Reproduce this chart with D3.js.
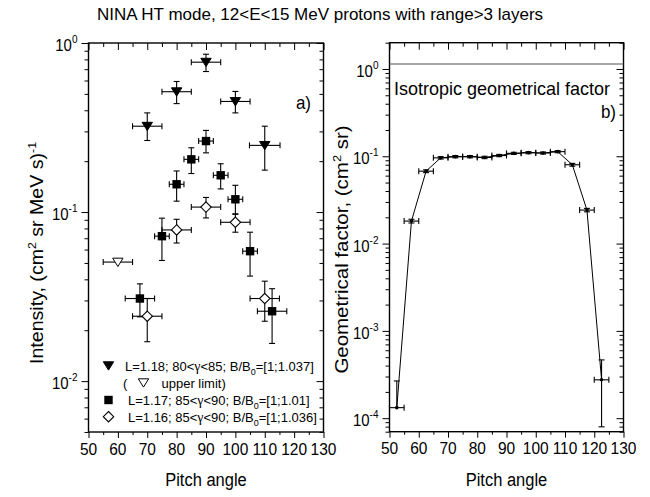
<!DOCTYPE html>
<html><head><meta charset="utf-8">
<script src="https://cdn.jsdelivr.net/npm/d3@7"></script>
<style>
html,body{margin:0;padding:0;background:#fff;}
text{font-family:"Liberation Sans",Arial,sans-serif;fill:#000;}
</style></head>
<body>
<svg id="chart" width="650" height="497"></svg>
<script>
// ---------- Data ----------
// Panel a) L=1.18; 80<γ<85 (filled down triangles)
const triX   = [70, 80, 90, 100, 110];
const triY   = [0.322, 0.515, 0.77, 0.451, 0.248];
const triYlo = [0.265, 0.438, 0.678, 0.386, 0.177];
const triYhi = [0.386, 0.592, 0.858, 0.517, 0.322];
const triXerr = [5, 5, 5, 5, 5.2];
// upper limit (open down triangle)
const ulX = [60];
const ulY = [0.0506];
const ulXerr = [5];
// L=1.17; 85<γ<90 (filled squares)
const sqX   = [67.5, 75, 80, 85, 90, 95, 100, 105, 112.5];
const sqY   = [0.0308, 0.072, 0.146, 0.205, 0.263, 0.165, 0.119, 0.0587, 0.0259];
const sqYlo = [0.0240, 0.0517, 0.116, 0.169, 0.224, 0.137, 0.097, 0.0418, 0.0167];
const sqYhi = [0.0376, 0.092, 0.175, 0.240, 0.304, 0.193, 0.144, 0.076, 0.0352];
const sqXerr = [5, 2.5, 2.5, 2.5, 2.5, 2.5, 2.5, 2.5, 5];
// L=1.16; 85<γ<90 (open diamonds)
const diX   = [70, 80, 90, 100, 110];
const diY   = [0.0242, 0.0784, 0.107, 0.087, 0.0308];
const diYlo = [0.0171, 0.0656, 0.0923, 0.076, 0.0226];
const diYhi = [0.0308, 0.0906, 0.122, 0.0976, 0.039];
const diXerr = [5, 5, 5, 5, 5];

// Panel b) geometrical factor
const gfX   = [52.5, 57.5, 62.5, 67.5, 72.5, 77.5, 82.5, 87.5, 92.5, 97.5, 102.5, 107.5, 112.5, 117.5, 122.5];
const gfY   = [1.32e-4, 0.0181, 0.0675, 0.096, 0.099, 0.099, 0.097, 0.102, 0.108, 0.110, 0.109, 0.113, 0.080, 0.0242, 2.75e-4];
const gfYlo = [1.32e-4, 0.0172, 0.0650, 0.093, 0.096, 0.096, 0.094, 0.099, 0.105, 0.107, 0.106, 0.110, 0.077, 0.0231, 7.96e-5];
const gfYhi = [2.67e-4, 0.0190, 0.0700, 0.099, 0.102, 0.102, 0.100, 0.105, 0.111, 0.113, 0.112, 0.116, 0.083, 0.0253, 4.65e-4];
const gfXerr = [2.5, 2.5, 2.5, 2.5, 2.5, 2.5, 2.5, 2.5, 2.5, 2.5, 2.5, 2.5, 2.5, 2.5, 2.5];
const isoGF = [1.14];

const xTicks = [50, 60, 70, 80, 90, 100, 110, 120, 130];
const xMinor = [55, 65, 75, 85, 95, 105, 115, 125];
const yDecadesA = [0.01, 0.1, 1];
const yDecadesB = [1e-4, 1e-3, 1e-2, 1e-1, 1];

const titleText = "NINA HT mode, 12<E<15 MeV protons with range>3 layers";

// ---------- Layout ----------
const svg = d3.select("#chart");
const A = {x0: 88.5, x1: 323.5, y0: 432, y1: 43};
const B = {x0: 389.5, x1: 623.5, y0: 431.7, y1: 42.7};

const xA = d3.scaleLinear().domain([50,130]).range([A.x0, A.x1]);
const yA = d3.scaleLog().domain([0.005, 1]).range([A.y0, A.y1]);
const xB = d3.scaleLinear().domain([50,130]).range([B.x0, B.x1]);
const yB = d3.scaleLog().domain([7e-5, 2]).range([B.y0, B.y1]);

// horizontal text, vertically stretched by k
function htext(x, y, size, k, anchor){
  return svg.append("text").attr("transform",`translate(${x},${y}) scale(1,${k})`)
    .attr("text-anchor",anchor||"start").attr("font-size",size);
}

function logMinors(scale){
  const [d0,d1] = scale.domain();
  const out = [];
  for (let e = Math.floor(Math.log10(d0)); e <= Math.ceil(Math.log10(d1)); e++){
    for (let m = 2; m <= 9; m++){
      const v = m*Math.pow(10,e);
      if (v >= d0 && v <= d1) out.push(v);
    }
  }
  return out;
}

function drawAxes(P, x, y, decades){
  const g = svg.append("g");
  const clean = s => s.call(gg => gg.select(".domain").remove());
  // bottom (outward)
  g.append("g").attr("transform",`translate(0,${P.y0})`)
    .call(d3.axisBottom(x).tickValues(xTicks).tickSize(6).tickFormat("")).call(clean);
  g.append("g").attr("transform",`translate(0,${P.y0})`)
    .call(d3.axisBottom(x).tickValues(xMinor).tickSize(3).tickFormat("")).call(clean);
  // top (inward)
  g.append("g").attr("transform",`translate(0,${P.y1})`)
    .call(d3.axisBottom(x).tickValues(xTicks).tickSize(7).tickFormat("")).call(clean);
  g.append("g").attr("transform",`translate(0,${P.y1})`)
    .call(d3.axisBottom(x).tickValues(xMinor).tickSize(4).tickFormat("")).call(clean);
  // left (outward)
  g.append("g").attr("transform",`translate(${P.x0},0)`)
    .call(d3.axisLeft(y).tickValues(decades).tickSize(7).tickFormat("")).call(clean);
  g.append("g").attr("transform",`translate(${P.x0},0)`)
    .call(d3.axisLeft(y).tickValues(logMinors(y)).tickSize(4).tickFormat("")).call(clean);
  // right (inward)
  g.append("g").attr("transform",`translate(${P.x1},0)`)
    .call(d3.axisLeft(y).tickValues(decades).tickSize(7).tickFormat("")).call(clean);
  g.append("g").attr("transform",`translate(${P.x1},0)`)
    .call(d3.axisLeft(y).tickValues(logMinors(y)).tickSize(4).tickFormat("")).call(clean);
  g.selectAll(".tick line").attr("stroke","#000").attr("stroke-width",1);
  // frame
  g.append("rect").attr("x",P.x0).attr("y",P.y1).attr("width",P.x1-P.x0).attr("height",P.y0-P.y1)
    .attr("fill","none").attr("stroke","#000").attr("stroke-width",1.4);
  // x tick labels
  xTicks.forEach(v=>{
    htext(x(v), P.y0+22.5, 15.5, 1.1, "middle").text(String(v));
  });
  // y tick labels 10^n
  decades.forEach(d=>{
    const t = htext(P.x0-11, y(d)+8, 15, 1.12, "end");
    t.append("tspan").text("10");
    t.append("tspan").attr("dy",-7).attr("font-size",10).text(String(Math.round(Math.log10(d))));
  });
}

drawAxes(A, xA, yA, yDecadesA);
drawAxes(B, xB, yB, yDecadesB);

// ---------- error bars ----------
function errBars(g, x, y, xs, ys, xerr, ylo, yhi, cap){
  xs.forEach((xv,i)=>{
    const cx = x(xv), cy = y(ys[i]);
    const xl = x(xv - xerr[i]), xr = x(xv + xerr[i]);
    g.append("line").attr("x1",xl).attr("x2",xr).attr("y1",cy).attr("y2",cy);
    g.append("line").attr("x1",xl).attr("x2",xl).attr("y1",cy-cap).attr("y2",cy+cap);
    g.append("line").attr("x1",xr).attr("x2",xr).attr("y1",cy-cap).attr("y2",cy+cap);
    if (ylo && yhi){
      const yt = y(yhi[i]), yb = y(ylo[i]);
      g.append("line").attr("x1",cx).attr("x2",cx).attr("y1",yt).attr("y2",yb);
      g.append("line").attr("x1",cx-cap).attr("x2",cx+cap).attr("y1",yt).attr("y2",yt);
      if (Math.abs(yb-cy) > 0.5)
        g.append("line").attr("x1",cx-cap).attr("x2",cx+cap).attr("y1",yb).attr("y2",yb);
    }
  });
}

const gA = svg.append("g").attr("stroke","#000").attr("stroke-width",1.1);
errBars(gA, xA, yA, triX, triY, triXerr, triYlo, triYhi, 3);
errBars(gA, xA, yA, ulX, ulY, ulXerr, null, null, 3);
errBars(gA, xA, yA, sqX, sqY, sqXerr, sqYlo, sqYhi, 3);
errBars(gA, xA, yA, diX, diY, diXerr, diYlo, diYhi, 3);

const triPath = (cx,cy,s) => `M${cx-s},${cy-s*0.75}L${cx+s},${cy-s*0.75}L${cx},${cy+s*0.85}Z`;
function markTri(g, cx, cy, fill){
  g.append("path").attr("d",triPath(cx,cy,5.2)).attr("fill",fill).attr("stroke","#000").attr("stroke-width",1);
}
function markSq(g, cx, cy){
  g.append("rect").attr("x",cx-4.2).attr("y",cy-4.2).attr("width",8.4).attr("height",8.4).attr("fill","#000");
}
function markDi(g, cx, cy){
  g.append("path").attr("d",`M${cx},${cy-5.2}L${cx+5.2},${cy}L${cx},${cy+5.2}L${cx-5.2},${cy}Z`)
   .attr("fill","#fff").attr("stroke","#000").attr("stroke-width",1.1);
}
const mA = svg.append("g");
triX.forEach((v,i)=>markTri(mA, xA(v), yA(triY[i]), "#000"));
ulX.forEach((v,i)=>markTri(mA, xA(v), yA(ulY[i]), "#fff"));
sqX.forEach((v,i)=>markSq(mA, xA(v), yA(sqY[i])));
diX.forEach((v,i)=>markDi(mA, xA(v), yA(diY[i])));

// panel b
svg.append("line").attr("x1",B.x0).attr("x2",B.x1).attr("y1",yB(isoGF[0])).attr("y2",yB(isoGF[0]))
  .attr("stroke","#555").attr("stroke-width",1.2);
const line = d3.line().x((d,i)=>xB(gfX[i])).y((d,i)=>yB(gfY[i]));
svg.append("path").attr("d",line(gfY)).attr("fill","none").attr("stroke","#000").attr("stroke-width",1);
const gB = svg.append("g").attr("stroke","#000").attr("stroke-width",1.1);
errBars(gB, xB, yB, gfX, gfY, gfXerr, gfYlo, gfYhi, 3);
gfX.forEach((v,i)=>svg.append("circle").attr("cx",xB(v)).attr("cy",yB(gfY[i])).attr("r",1.8).attr("fill","#000"));

// ---------- texts ----------
htext(320, 20, 17, 1.0, "middle").text(titleText);
htext((A.x0+A.x1)/2, 486, 16.5, 1.1, "middle").text("Pitch angle");
htext((B.x0+B.x1)/2, 486, 16.5, 1.1, "middle").text("Pitch angle");

const yl = svg.append("text").attr("transform",`translate(43,253) rotate(-90) scale(1.12,1)`).attr("text-anchor","middle").attr("font-size",17.5);
yl.append("tspan").text("Intensity, (cm");
yl.append("tspan").attr("dy",-7).attr("font-size",11).text("2");
yl.append("tspan").attr("dy",7).text(" sr MeV s)");
yl.append("tspan").attr("dy",-7).attr("font-size",11).text("-1");

const yr = svg.append("text").attr("transform",`translate(348,249.5) rotate(-90) scale(1.17,1)`).attr("text-anchor","middle").attr("font-size",17.5);
yr.append("tspan").text("Geometrical factor, (cm");
yr.append("tspan").attr("dy",-7).attr("font-size",11).text("2");
yr.append("tspan").attr("dy",7).text(" sr)");

htext(311, 109, 17, 1.1, "end").text("a)");
htext(616, 118, 17, 1.1, "end").text("b)");
htext(394, 95, 18, 1.03, "start").text("Isotropic geometrical factor");

// legend
const lg = svg.append("g");
const lfs = 13;
markTri(lg, 108.5, 365.7, "#000");
markSq(lg, 108.5, 400);
markDi(lg, 108.5, 416.7);
markTri(lg, 143.5, 382.7, "#fff");
function legText(x, y, L, g1, g2, bb){
  const t = htext(x, y+4.8, lfs, 1.05, "start");
  t.append("tspan").text(`L=${L}; ${g1}<`);
  t.append("tspan").attr("font-family","Liberation Serif, serif").attr("font-size",lfs+1).text("γ");
  t.append("tspan").text(`<${g2}; B/B`);
  t.append("tspan").attr("dy",4).attr("font-size",9).text("0");
  t.append("tspan").attr("dy",-4).text(`=[1;${bb}]`);
}
legText(125, 365.7, "1.18", 80, 85, "1.037");
legText(128, 400, "1.17", 85, 90, "1.01");
legText(128, 416.7, "1.16", 85, 90, "1.036");
htext(123, 382.7+4.8, lfs, 1.05, "start").text("(");
htext(161.5, 382.7+4.8, lfs, 1.05, "start").text("upper limit)");
</script>
</body></html>
